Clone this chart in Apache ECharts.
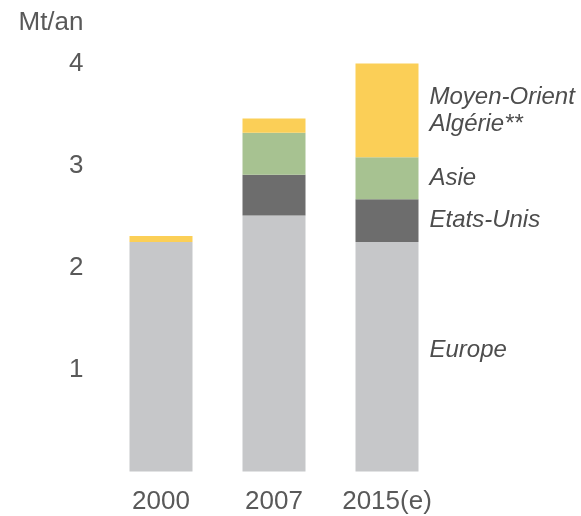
<!DOCTYPE html>
<html>
<head>
<meta charset="utf-8">
<script src="https://cdn.jsdelivr.net/npm/echarts@6/dist/echarts.min.js"></script>
<style>
  html, body { margin: 0; padding: 0; background: #fff; }
  #main { width: 581px; height: 516px; }
</style>
</head>
<body>
<div id="main"></div>
<script>
// catégories et valeurs (Mt/an)
var years = ["2000", "2007", "2015(e)"];
var europe = [2.25, 2.51, 2.25];
var etatsUnis = [0, 0.40, 0.42];
var asie = [0, 0.41, 0.41];
var moyenOrient = [0.06, 0.14, 0.92];
var yTicks = [0, 1, 2, 3, 4];

var names = ["Europe", "Etats-Unis", "Asie", "Moyen-Orient\nAlgérie**"];
var colors = ["#c6c7c9", "#6d6d6d", "#a7c291", "#fbcf57"];
var values = [europe, etatsUnis, asie, moyenOrient];

var myChart = echarts.init(document.getElementById("main"));

var font = "Liberation Sans, Arial, sans-serif";

var series = names.map(function (n, i) {
  return {
    name: n,
    type: "bar",
    stack: "total",
    barWidth: 63,
    itemStyle: { color: colors[i] },
    label: {
      show: true,
      position: "right",
      distance: 11,
      offset: i === 0 ? [0, -6] : [0, 0],
      fontFamily: font,
      fontSize: 24,
      fontStyle: "italic",
      color: "#4d4d4d",
      lineHeight: 27,
      formatter: function (p) {
        return p.dataIndex === years.length - 1 ? n : "";
      }
    },
    data: values[i]
  };
});

var option = {
  animation: false,
  grid: {
    left: 104.5,
    right: 137.5,
    top: 63.5,
    bottom: 44.5
  },
  xAxis: {
    type: "category",
    data: years,
    axisLine: { show: false },
    axisTick: { show: false },
    axisLabel: {
      interval: 0,
      hideOverlap: false,
      margin: 17,
      fontFamily: font,
      fontSize: 26,
      color: "#595959"
    }
  },
  yAxis: {
    type: "value",
    min: yTicks[0],
    max: yTicks[yTicks.length - 1],
    interval: 1,
    name: "Mt/an",
    nameLocation: "end",
    nameGap: 28,
    nameTextStyle: {
      fontFamily: font,
      fontSize: 26,
      color: "#595959",
      align: "right",
      padding: [0, 21, 0, 0]
    },
    axisLine: { show: false },
    axisTick: { show: false },
    splitLine: { show: false },
    axisLabel: {
      margin: 21,
      fontFamily: font,
      fontSize: 26,
      color: "#595959",
      showMinLabel: false,
      formatter: function (v) { return v === 0 ? "" : String(v); }
    }
  },
  series: series
};

myChart.setOption(option);
</script>
</body>
</html>
